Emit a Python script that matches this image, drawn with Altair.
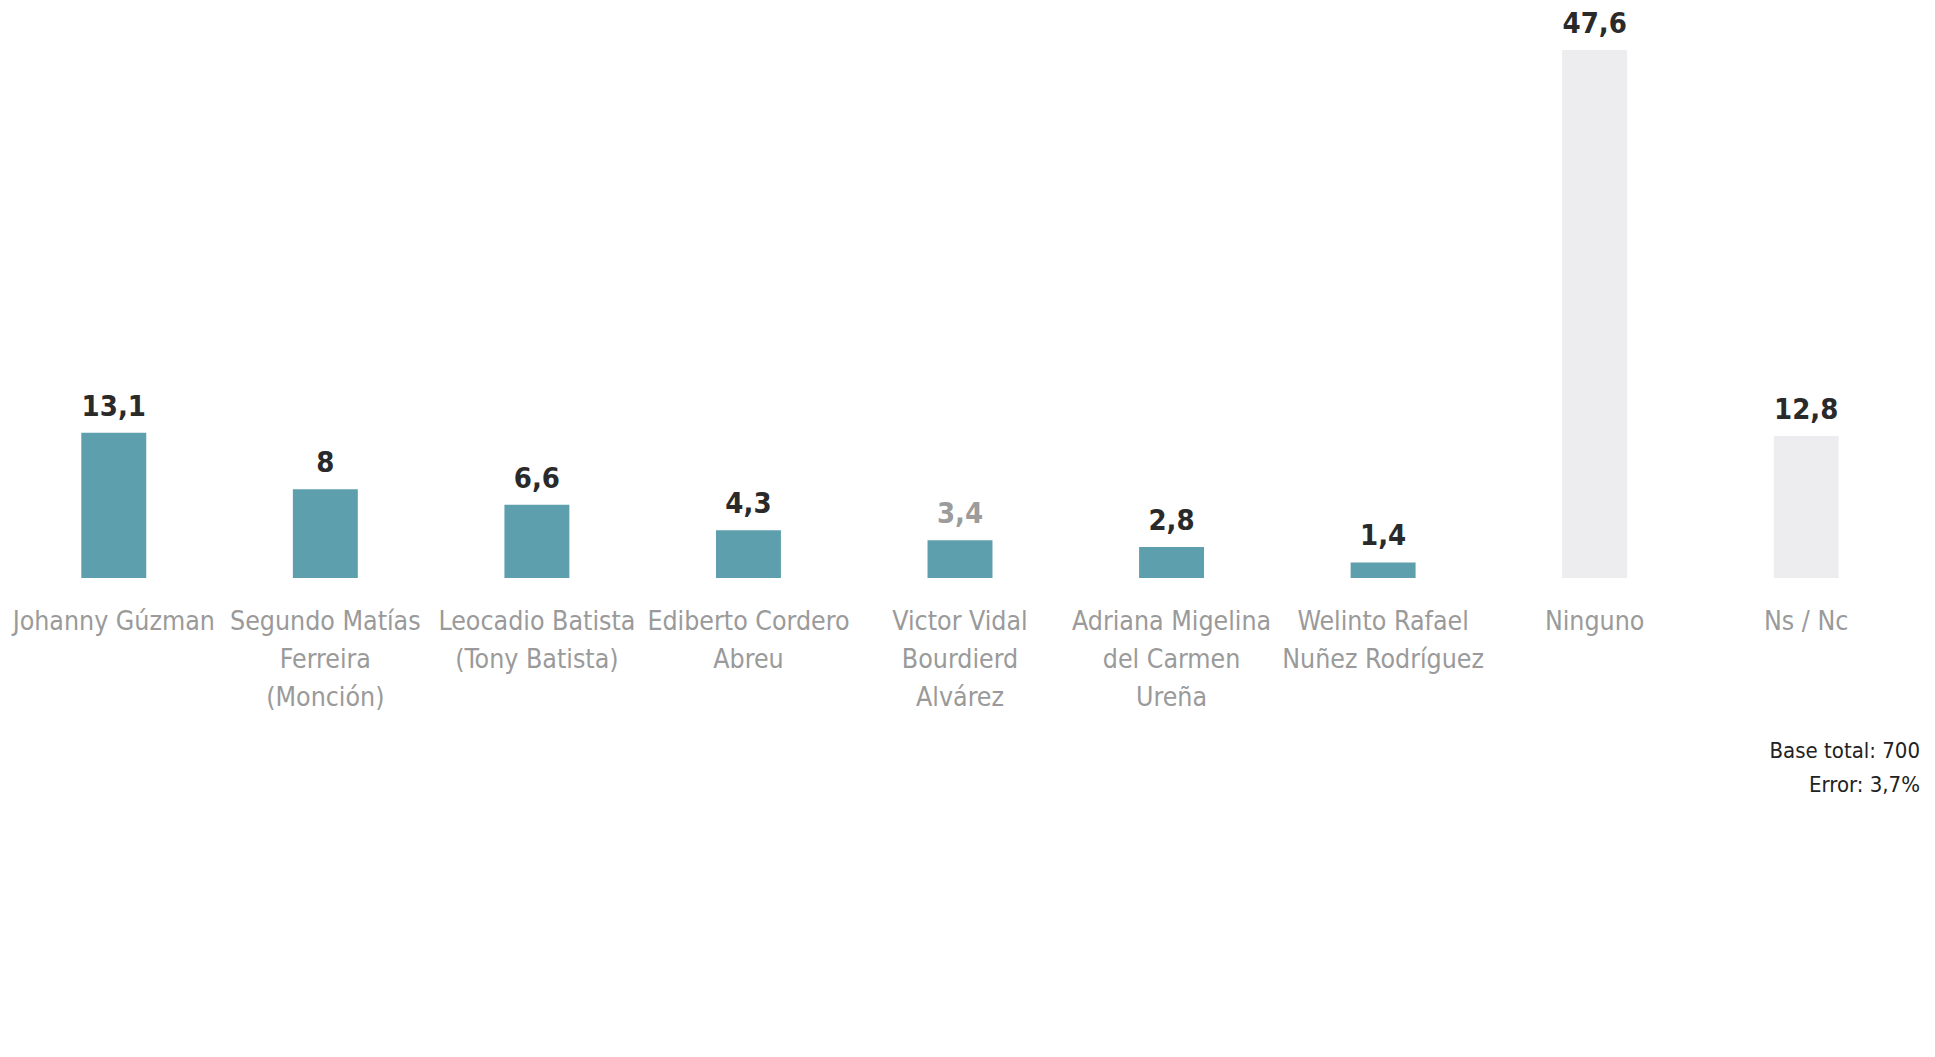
import altair as alt
import pandas as pd

categories = [
    "Johanny Gúzman",
    "Segundo Matías Ferreira (Monción)",
    "Leocadio Batista (Tony Batista)",
    "Ediberto Cordero Abreu",
    "Victor Vidal Bourdierd Alvárez",
    "Adriana Migelina del Carmen Ureña",
    "Welinto Rafael Nuñez Rodríguez",
    "Ninguno",
    "Ns / Nc",
]
label_lines = [
    ["Johanny Gúzman"],
    ["Segundo Matías", "Ferreira", "(Monción)"],
    ["Leocadio Batista", "(Tony Batista)"],
    ["Ediberto Cordero", "Abreu"],
    ["Victor Vidal", "Bourdierd", "Alvárez"],
    ["Adriana Migelina", "del Carmen", "Ureña"],
    ["Welinto Rafael", "Nuñez Rodríguez"],
    ["Ninguno"],
    ["Ns / Nc"],
]
values = [13.1, 8, 6.6, 4.3, 3.4, 2.8, 1.4, 47.6, 12.8]
value_text = ["13,1", "8", "6,6", "4,3", "3,4", "2,8", "1,4", "47,6", "12,8"]
groups = ["cand"] * 7 + ["other"] * 2
label_tone = ["dark", "dark", "dark", "dark", "light", "dark", "dark", "dark", "dark"]
footnote = ["Base total: 700", "Error: 3,7%"]

df = pd.DataFrame({
    "cat": categories,
    "lines": label_lines,
    "val": values,
    "vtxt": value_text,
    "grp": groups,
    "tone": label_tone,
})

FONT = "Liberation Sans Narrow, DejaVu Sans Condensed, sans-serif"

x = alt.X("cat:N", sort=categories, axis=None,
          scale=alt.Scale(paddingInner=0.693, paddingOuter=0.3465))
y = alt.Y("val:Q", axis=None, scale=alt.Scale(domain=[0, 47.6], nice=False, zero=True))

bars = alt.Chart(df).mark_bar().encode(
    x=x, y=y,
    color=alt.Color("grp:N", legend=None,
                    scale=alt.Scale(domain=["cand", "other"], range=["#5e9fae", "#ededf0"])),
)

vals = alt.Chart(df).mark_text(
    baseline="alphabetic", dy=-17, font=FONT, fontSize=29, fontWeight="bold"
).encode(
    x=x, y=y, text="vtxt:N",
    color=alt.Color("tone:N", legend=None,
                    scale=alt.Scale(domain=["dark", "light"], range=["#2a2a2a", "#9c9c9c"])),
)

names = alt.Chart(df).mark_text(
    baseline="alphabetic", font=FONT, fontSize=26.5, lineHeight=38, color="#9a9a9a"
).encode(
    x=x, y=alt.value(580), text="lines",
)

foot = alt.Chart(pd.DataFrame({"t": [footnote]})).mark_text(
    align="right", baseline="alphabetic", font=FONT, fontSize=22, lineHeight=34, color="#222222"
).encode(
    x=alt.value(1912), y=alt.value(708), text="t",
)

chart = alt.layer(bars, vals, names, foot).resolve_scale(color="independent").properties(
    width=1904, height=528,
    padding={"left": 8, "top": 50, "right": 23, "bottom": 479},
    autosize=alt.AutoSizeParams(type="none"),
    background="white",
).configure_view(stroke=None)

chart.save("out.html", embed_options={"renderer": "svg", "actions": False})
